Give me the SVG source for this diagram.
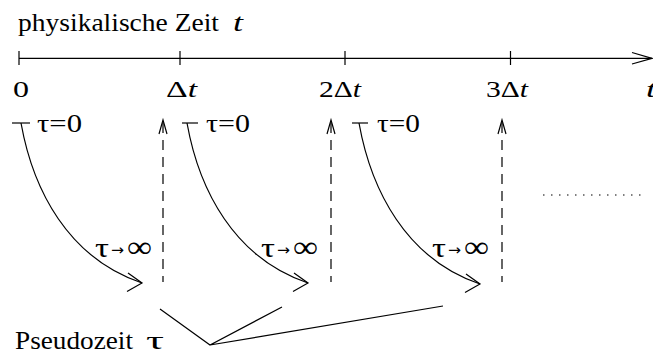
<svg xmlns="http://www.w3.org/2000/svg" width="653" height="356" viewBox="0 0 653 356" font-family="'Liberation Serif', 'Times New Roman', serif">
<style>
text{font-family:'Liberation Serif','Times New Roman',serif;fill:#000}
.it{font-style:italic}
.ar{font-family:'DejaVu Sans',sans-serif;font-size:15px}
.tau{font-size:27px}
.inf{font-size:30px}
.ln{fill:none;stroke:#000;stroke-width:1.2}
.dash{fill:none;stroke:#000;stroke-width:1.2;stroke-dasharray:10 7}
.dot{fill:none;stroke:#000;stroke-width:1.2;stroke-dasharray:1.5 6.5}
</style>
<defs>
<path id="ah" d="M-14,-10 L0,0 L-15,8.5" class="ln"/>
<path id="up" d="M-4,14 L0,0 L4,14" class="ln"/>
</defs>
<rect width="653" height="356" fill="#fff"/>
<g id="axis">
<line x1="19" y1="58.3" x2="652" y2="58.3" class="ln"/>
<path d="M632,52.5 L652,58.3 L632,64" class="ln"/>
<line x1="19" y1="51" x2="19" y2="65" class="ln"/>
<line x1="180" y1="51" x2="180" y2="65" class="ln"/>
<line x1="345" y1="51" x2="345" y2="65" class="ln"/>
<line x1="510.5" y1="51" x2="510.5" y2="65" class="ln"/>
<text x="18" y="31" font-size="25" textLength="201" lengthAdjust="spacingAndGlyphs">physikalische Zeit</text>
<text x="233" y="31" font-size="25" class="it" textLength="10" lengthAdjust="spacingAndGlyphs">t</text>
<text x="13" y="97" font-size="24" textLength="16" lengthAdjust="spacingAndGlyphs">0</text>
<text x="166" y="97" font-size="24" textLength="31" lengthAdjust="spacingAndGlyphs">Δ<tspan class="it">t</tspan></text>
<text x="319" y="97" font-size="24" textLength="42" lengthAdjust="spacingAndGlyphs">2Δ<tspan class="it">t</tspan></text>
<text x="486" y="97" font-size="24" textLength="42" lengthAdjust="spacingAndGlyphs">3Δ<tspan class="it">t</tspan></text>
<text x="646" y="97" font-size="24" class="it" textLength="10" lengthAdjust="spacingAndGlyphs">t</text>
</g>
<g id="step1">
<line x1="12" y1="123" x2="30" y2="123" class="ln"/>
<path d="M21,123 C33,190 68,258 142,283" class="ln"/>
<use href="#ah" x="142" y="283"/>
<text x="37" y="132" font-size="25" textLength="45" lengthAdjust="spacingAndGlyphs">τ=0</text>
<text x="95" y="257" class="tau" textLength="14" lengthAdjust="spacingAndGlyphs">τ</text>
<text x="111" y="255" class="ar" textLength="13" lengthAdjust="spacingAndGlyphs">→</text>
<text x="127" y="257" class="inf" textLength="25" lengthAdjust="spacingAndGlyphs">∞</text>
</g>
<g id="step2">
<line x1="182" y1="123" x2="198" y2="123" class="ln"/>
<path d="M187,123 C199,190 234,258 308,283" class="ln"/>
<use href="#ah" x="308" y="283"/>
<text x="206" y="132" font-size="25" textLength="44" lengthAdjust="spacingAndGlyphs">τ=0</text>
<text x="261" y="257" class="tau" textLength="14" lengthAdjust="spacingAndGlyphs">τ</text>
<text x="277" y="255" class="ar" textLength="13" lengthAdjust="spacingAndGlyphs">→</text>
<text x="293" y="257" class="inf" textLength="25" lengthAdjust="spacingAndGlyphs">∞</text>
</g>
<g id="step3">
<line x1="352" y1="123" x2="368" y2="123" class="ln"/>
<path d="M359,123 C371,190 406,259 480,284" class="ln"/>
<use href="#ah" x="480" y="284"/>
<text x="377" y="132" font-size="25" textLength="43" lengthAdjust="spacingAndGlyphs">τ=0</text>
<text x="432" y="257" class="tau" textLength="14" lengthAdjust="spacingAndGlyphs">τ</text>
<text x="448" y="255" class="ar" textLength="13" lengthAdjust="spacingAndGlyphs">→</text>
<text x="464" y="257" class="inf" textLength="25" lengthAdjust="spacingAndGlyphs">∞</text>
</g>
<g id="continuation">
<line x1="543" y1="195" x2="643" y2="195" class="dot"/>
</g>
<g id="pseudozeit">
<text x="15" y="349" font-size="25" textLength="118" lengthAdjust="spacingAndGlyphs">Pseudozeit</text>
<text x="146" y="349" font-size="25" textLength="18" lengthAdjust="spacingAndGlyphs">τ</text>
</g>
<g id="connectors">
<line x1="163" y1="123" x2="163" y2="282" class="dash"/>
<use href="#up" x="163" y="120"/>
<line x1="331" y1="123" x2="331" y2="282" class="dash"/>
<use href="#up" x="331" y="120"/>
<line x1="502" y1="123" x2="502" y2="282" class="dash"/>
<use href="#up" x="502" y="120"/>
<path d="M160,309 L210,345 L282,307 M210,345 L443,306" class="ln"/>
</g>
</svg>
